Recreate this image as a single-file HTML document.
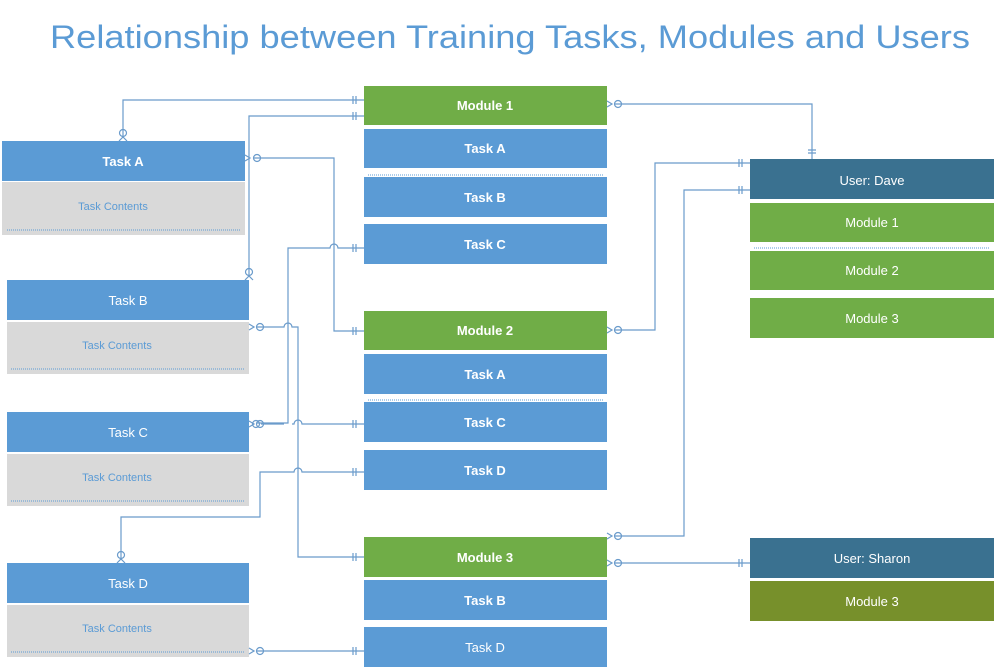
<!DOCTYPE html>
<html><head><meta charset="utf-8"><style>
html,body{margin:0;padding:0;background:#fff;width:996px;height:669px;overflow:hidden}
svg text{font-family:"Liberation Sans",sans-serif}
</style></head><body>
<svg width="996" height="669" viewBox="0 0 996 669" xmlns="http://www.w3.org/2000/svg">
<text x="50" y="48" font-size="32" fill="#5b9bd5" textLength="920" lengthAdjust="spacingAndGlyphs">Relationship between Training Tasks, Modules and Users</text>

<!-- Tasks left -->
<g font-size="13" text-anchor="middle">
<rect x="2" y="141" width="243" height="40" fill="#5b9bd5"/>
<text x="123" y="166" fill="#fff" font-weight="bold">Task A</text>
<rect x="2" y="182" width="243" height="53" fill="#d9d9d9"/>
<line x1="7" y1="230" x2="240" y2="230" stroke="#5b9bd5" stroke-dasharray="1,1"/>
<text x="113" y="210" fill="#5b9bd5" font-size="11">Task Contents</text>

<rect x="7" y="280" width="242" height="40" fill="#5b9bd5"/>
<text x="128" y="305" fill="#fff">Task B</text>
<rect x="7" y="322" width="242" height="52" fill="#d9d9d9"/>
<line x1="11" y1="369" x2="245" y2="369" stroke="#5b9bd5" stroke-dasharray="1,1"/>
<text x="117" y="349" fill="#5b9bd5" font-size="11">Task Contents</text>

<rect x="7" y="412" width="242" height="40" fill="#5b9bd5"/>
<text x="128" y="437" fill="#fff">Task C</text>
<rect x="7" y="454" width="242" height="52" fill="#d9d9d9"/>
<line x1="11" y1="501" x2="245" y2="501" stroke="#5b9bd5" stroke-dasharray="1,1"/>
<text x="117" y="481" fill="#5b9bd5" font-size="11">Task Contents</text>

<rect x="7" y="563" width="242" height="40" fill="#5b9bd5"/>
<text x="128" y="588" fill="#fff">Task D</text>
<rect x="7" y="605" width="242" height="52" fill="#d9d9d9"/>
<line x1="11" y1="652" x2="245" y2="652" stroke="#5b9bd5" stroke-dasharray="1,1"/>
<text x="117" y="632" fill="#5b9bd5" font-size="11">Task Contents</text>
</g>

<!-- Modules middle -->
<g font-size="13" text-anchor="middle" fill="#fff" font-weight="bold">
<rect x="364" y="86" width="243" height="39" fill="#70ad47"/><text x="485" y="110">Module 1</text>
<rect x="364" y="129" width="243" height="39" fill="#5b9bd5"/><text x="485" y="153">Task A</text>
<line x1="368" y1="175" x2="603" y2="175" stroke="#5b9bd5" stroke-dasharray="1,1"/>
<rect x="364" y="177" width="243" height="40" fill="#5b9bd5"/><text x="485" y="202">Task B</text>
<rect x="364" y="224" width="243" height="40" fill="#5b9bd5"/><text x="485" y="249">Task C</text>

<rect x="364" y="311" width="243" height="39" fill="#70ad47"/><text x="485" y="335">Module 2</text>
<rect x="364" y="354" width="243" height="40" fill="#5b9bd5"/><text x="485" y="379">Task A</text>
<line x1="368" y1="400" x2="603" y2="400" stroke="#5b9bd5" stroke-dasharray="1,1"/>
<rect x="364" y="402" width="243" height="40" fill="#5b9bd5"/><text x="485" y="427">Task C</text>
<rect x="364" y="450" width="243" height="40" fill="#5b9bd5"/><text x="485" y="475">Task D</text>

<rect x="364" y="537" width="243" height="40" fill="#70ad47"/><text x="485" y="562">Module 3</text>
<rect x="364" y="580" width="243" height="40" fill="#5b9bd5"/><text x="485" y="605">Task B</text>
<rect x="364" y="627" width="243" height="40" fill="#5b9bd5"/><text x="485" y="652" font-weight="normal">Task D</text>
</g>

<!-- Users right -->
<g font-size="13" text-anchor="middle" fill="#fff">
<rect x="750" y="159" width="244" height="40" fill="#3a7190"/><text x="872" y="185">User: Dave</text>
<rect x="750" y="203" width="244" height="39" fill="#70ad47"/><text x="872" y="227">Module 1</text>
<line x1="754" y1="248" x2="990" y2="248" stroke="#5b9bd5" stroke-dasharray="1,1"/>
<rect x="750" y="251" width="244" height="39" fill="#70ad47"/><text x="872" y="275">Module 2</text>
<rect x="750" y="298" width="244" height="40" fill="#70ad47"/><text x="872" y="323">Module 3</text>

<rect x="750" y="538" width="244" height="40" fill="#3a7190"/><text x="872" y="563">User: Sharon</text>
<rect x="750" y="581" width="244" height="40" fill="#77902b"/><text x="872" y="606">Module 3</text>
</g>

<!-- connectors -->
<g fill="none" stroke="#6a9bcb" stroke-width="1.2">
<path d="M123 137 V100 H364"/>
<path d="M249 276 V116 H364"/>
<path d="M253 158 H334 V331 H364"/>
<path d="M257 423 H288 V248 H330 a4 4 0 0 1 8 0 H364"/>
<path d="M257 327 H284 a4 4 0 0 1 8 0 H298 V557 H364"/>
<path d="M261 424 H284 M292 424 H294 a4 4 0 0 1 8 0 H364"/>
<path d="M121 559 V517 H260 V472 H294 a4 4 0 0 1 8 0 H364"/>
<path d="M257 651 H364"/>
<path d="M615 104 H812 V159"/>
<path d="M615 330 H655 V163 H750"/>
<path d="M615 536 H684 V190 H750"/>
<path d="M615 563 H750"/>
<!-- crow feet + circles -->
<circle cx="123" cy="133" r="3.5"/><path d="M119 141 L123 137 L127 141"/>
<circle cx="249" cy="272" r="3.5"/><path d="M245 280 L249 276 L253 280"/>
<circle cx="121" cy="555" r="3.5"/><path d="M117 563 L121 559 L125 563"/>
<circle cx="257" cy="158" r="3.5"/><path d="M245 155 L250 158 L245 161"/>
<circle cx="260" cy="327" r="3.5"/><path d="M249 324 L254 327 L249 330"/>
<circle cx="260" cy="424" r="3.5"/><circle cx="256" cy="424" r="3.5"/><path d="M249 421 L254 424 L249 427"/>
<circle cx="260" cy="651" r="3.5"/><path d="M249 648 L254 651 L249 654"/>
<circle cx="618" cy="104" r="3.5"/><path d="M607 101 L612 104 L607 107"/>
<circle cx="618" cy="330" r="3.5"/><path d="M607 327 L612 330 L607 333"/>
<circle cx="618" cy="536" r="3.5"/><path d="M607 533 L612 536 L607 539"/>
<circle cx="618" cy="563" r="3.5"/><path d="M607 560 L612 563 L607 566"/>
<!-- double ticks -->
<path d="M353 96 V104 M356 96 V104 M353 112 V120 M356 112 V120 M353 327 V335 M356 327 V335 M353 244 V252 M356 244 V252 M353 420 V428 M356 420 V428 M353 468 V476 M356 468 V476 M353 553 V561 M356 553 V561 M353 647 V655 M356 647 V655"/>
<path d="M739 159 V167 M742 159 V167 M739 186 V194 M742 186 V194 M739 559 V567 M742 559 V567 M808 150 H816 M808 153 H816"/>
</g>
</svg>
</body></html>
